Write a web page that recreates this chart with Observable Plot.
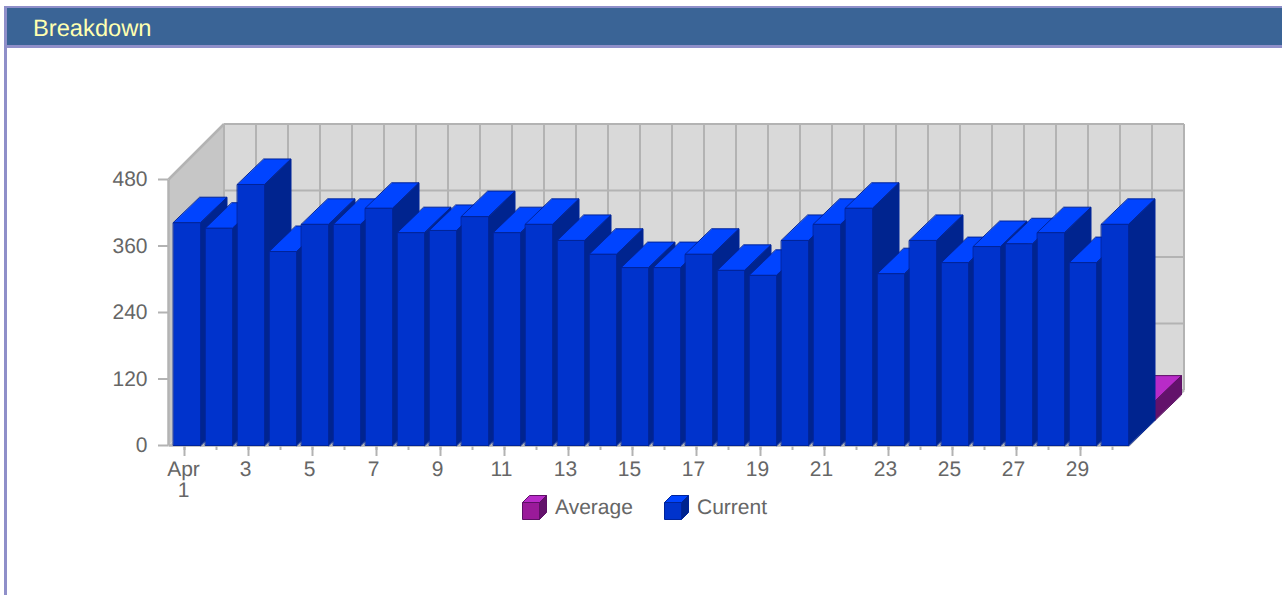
<!DOCTYPE html>
<html><head><meta charset="utf-8">
<script src="https://cdn.jsdelivr.net/npm/d3@7"></script>
<script src="https://cdn.jsdelivr.net/npm/@observablehq/plot@0.6"></script>
<style>
html,body{margin:0;padding:0;background:#fff;width:1282px;height:595px;overflow:hidden;font-family:"Liberation Sans",Arial,sans-serif;text-rendering:geometricPrecision}
#panel{position:absolute;left:4px;top:6px;width:1278px;height:589px;border-left:3px solid #8f8fc9;box-sizing:border-box}
#head{position:absolute;left:0;top:0;width:100%;height:42px;box-sizing:border-box;background:#3a6496;border-top:2px solid #8f8fc9;border-bottom:3px solid #8f8fc9;color:#ffffb0;font-size:23.7px;line-height:43px;padding-left:26px}
#chart{position:absolute;left:0;top:48px}
#chart text{text-rendering:geometricPrecision}
#legend{position:absolute;left:0;top:493px;width:1282px;height:30px;color:#666;font-size:21px}
#legend div{position:absolute;top:0;display:flex;align-items:center;gap:7px;height:30px}
</style></head><body>
<div id="panel"><div id="head">Breakdown</div></div>
<div id="chart"></div>
<div id="legend"></div>
<script>
const days = d3.range(1, 31);
const current = [402,392,471,350,399,399,428,384,388,413,384,399,370,345,321,321,345,316,307,370,399,428,310,370,330,359,364,384,330,399];
const averageDay = [30];
const average = [34];
const valueTicks = [0,120,240,360,480];
const labelledDays = [3,5,7,9,11,13,15,17,19,21,23,25,27,29];

const colors = {
  current: {front:"#0033cc", top:"#0044ff", side:"#00248f", edge:"#00249a"},
  average: {front:"#9a1a9a", top:"#b82bc8", side:"#63126b", edge:"#5e1066"}
};
const wall = {back:"#d9d9d9", side:"#c6c6c6", line:"#b3b3b3"};

// oblique projection: depth moves a point right (in days) and up (in value units)
const dayPx = 32, valPx = 266 / 480;
const gap = 5 / dayPx, barDepth = 26.5, wallDepth = 55.5;
const P = (x, y, depth, ratio = 26/27) => ({x: x + depth / dayPx, y: y + depth * ratio / valPx});

let polys = [], id = 0;
function poly(pts, fill, stroke) { id++; pts.forEach(p => polys.push({...p, id, fill, stroke})); }
function bar(day, value, z, c) {
  const x0 = day - 0.5 + gap, x1 = day + 0.5;
  const d0 = z, d1 = z + barDepth;
  poly([P(x0,value,d0),P(x1,value,d0),P(x1,value,d1),P(x0,value,d1)], c.top, c.edge);
  poly([P(x1,0,d0),P(x1,value,d0),P(x1,value,d1),P(x1,0,d1)], c.side, c.edge);
  poly([P(x0,0,d0),P(x1,0,d0),P(x1,value,d0),P(x0,value,d0)], c.front, c.edge);
}
averageDay.forEach((d,i) => bar(d, average[i], barDepth, colors.average));
days.forEach((d,i) => bar(d, current[i], 0, colors.current));

const xL = 0.5, xR = 30.5, vMax = 480;
const W = (x, y, d) => P(x, y, d, 1);
const walls = [];
let wid = 0;
function wpoly(pts, fill){ wid++; pts.forEach(p => walls.push({...p, id:wid, fill})); }
wpoly([W(xL,0,0),W(xL,vMax,0),W(xL,vMax,wallDepth),W(xL,0,wallDepth)], wall.side);
wpoly([W(xL,0,0),W(xR,0,0),W(xR,0,wallDepth),W(xL,0,wallDepth)], wall.side);
wpoly([W(xL,0,wallDepth),W(xR,0,wallDepth),W(xR,vMax,wallDepth),W(xL,vMax,wallDepth)], wall.back);

const hGrid = valueTicks.map(v => ({a:W(xL,v,wallDepth), b:W(xR,v,wallDepth)}));
const vGrid = d3.range(0,31).map(i => ({a:W(xL+i,0,wallDepth), b:W(xL+i,vMax,wallDepth)}));
const edges = [
  {a:W(xL,vMax,0), b:W(xL,vMax,wallDepth)},
  {a:W(xR,0,0), b:W(xR,0,wallDepth)},
  {a:W(xL,0,0), b:W(xR,0,0)},
  {a:W(xL,0,0), b:W(xL,vMax,0)}
];
const link = (data, w) => Plot.link(data, {x1:d=>d.a.x, y1:d=>d.a.y, x2:d=>d.b.x, y2:d=>d.b.y, stroke:wall.line, strokeWidth:w});

const font = {fontSize:21, fill:"#666"};
const svg = Plot.plot({
  width:1282, height:450,
  marginLeft:168, marginRight:154, marginTop:131, marginBottom:53,
  style:{background:"transparent", fontFamily:'"Liberation Sans",Arial,sans-serif', overflow:"visible"},
  x:{type:"linear", domain:[xL,xR]},
  y:{type:"linear", domain:[0,vMax]},
  marks:[
    Plot.line(walls, {x:"x", y:"y", z:"id", fill:"fill", stroke:null, curve:"linear-closed"}),
    link(hGrid,2), link(vGrid,2), link(edges,2.5),
    Plot.axisY({ticks:valueTicks, tickSize:10, tickPadding:11, stroke:wall.line, strokeWidth:2, tickFormat:d=>d, label:null, ...font}),
    Plot.axisX({ticks:days, tickSize:5, text:null, label:null, stroke:wall.line, strokeWidth:2}),
    Plot.axisX({ticks:[1,...labelledDays], tickSize:11, text:null, label:null, stroke:wall.line, strokeWidth:2}),
    Plot.axisX({ticks:labelledDays, tickSize:0, tickPadding:16, dx:-3, label:null, tickFormat:d=>d, ...font}),
    Plot.axisX({ticks:[1], tickSize:0, tickPadding:16, dx:-1, label:null, tickFormat:d=>"Apr\n1", lineHeight:1, ...font}),
    Plot.line(polys, {x:"x", y:"y", z:"id", fill:"fill", stroke:"stroke", strokeWidth:1, curve:"linear-closed"})
  ]
});
document.getElementById("chart").appendChild(svg);

const legendItems = [["Average", colors.average, 521], ["Current", colors.current, 663]];
const leg = document.getElementById("legend");
legendItems.forEach(([name,c,x]) => {
  const div = document.createElement("div");
  div.style.left = x + "px";
  div.innerHTML = `<svg width="27" height="28" viewBox="0 0 27 28" style="display:block">
   <polygon points="1.5,8.5 8.5,1.5 25.5,1.5 18.5,8.5" fill="${c.top}" stroke="${c.edge}"/>
   <polygon points="18.5,8.5 25.5,1.5 25.5,18.5 18.5,25.5" fill="${c.side}" stroke="${c.edge}"/>
   <polygon points="1.5,8.5 18.5,8.5 18.5,25.5 1.5,25.5" fill="${c.front}" stroke="${c.edge}"/></svg><span>${name}</span>`;
  leg.appendChild(div);
});
</script>
</body></html>
